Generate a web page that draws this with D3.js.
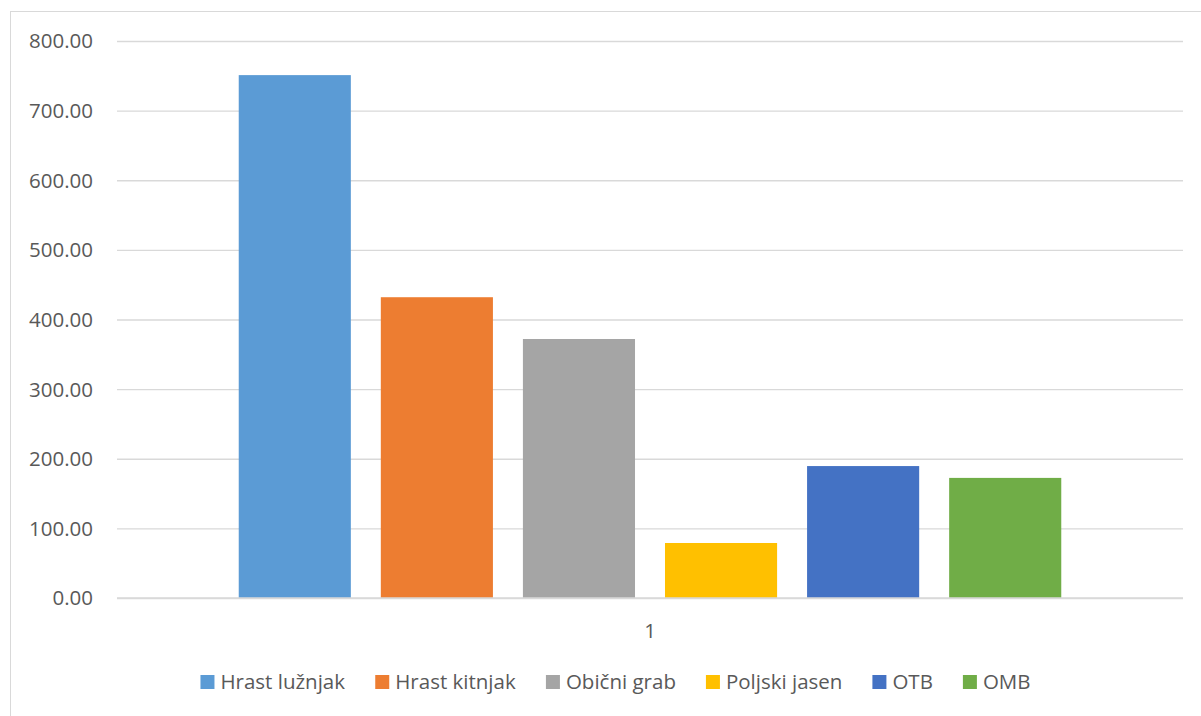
<!DOCTYPE html>
<html><head><meta charset="utf-8">
<script src="https://cdn.jsdelivr.net/npm/d3@7"></script>
<style>body{margin:0;background:#fff}svg{display:block}</style>
</head><body>
<svg id="c" width="1201" height="716"></svg>
<script>
const categories = ["1"];
const seriesNames = ["Hrast lužnjak","Hrast kitnjak","Obični grab","Poljski jasen","OTB","OMB"];
const seriesValues = [751, 432, 372, 79, 189.5, 172.5];
const seriesColors = ["#5b9bd5","#ed7d31","#a5a5a5","#ffc000","#4472c4","#70ad47"];
const yTicks = [0,100,200,300,400,500,600,700,800];

(function(){
const svg = d3.select("#c");
const font = "'Open Sans', sans-serif";
svg.append("rect").attr("x",10.5).attr("y",11.5).attr("width",1210).attr("height",720)
  .attr("fill","#fff").attr("stroke","#d9d9d9").attr("stroke-width",1);

const pl=117, pr=1183, pt=41, pb=598;
const y = d3.scaleLinear().domain([0,800]).range([pb,pt]);
const x0 = d3.scaleBand().domain(categories).range([pl,pr]).paddingInner(0).paddingOuter(0.148);
const x1 = d3.scaleBand().domain(seriesNames).range([0,x0.bandwidth()]).paddingInner(0.211).paddingOuter(0);

const yAxis = d3.axisLeft(y).tickValues(yTicks).tickFormat(d3.format(".2f")).tickSize(-(pr-pl)).tickPadding(24);
const ga = svg.append("g").attr("transform",`translate(${pl},0)`).call(yAxis);
ga.select(".domain").remove();
ga.selectAll(".tick line").attr("stroke","#d9d9d9").attr("stroke-width",1.3);
ga.selectAll(".tick text").attr("fill","#595959").attr("font-family",font).attr("font-size",20.5).attr("dy","0.34em");

const g = svg.append("g");
categories.forEach((c,ci)=>{
  g.selectAll("rect.b").data(seriesNames).enter().append("rect")
    .attr("x",d=>x0(c)+x1(d)).attr("width",x1.bandwidth())
    .attr("y",(d,i)=>y(seriesValues[i])).attr("height",(d,i)=>pb-y(seriesValues[i]))
    .attr("fill",(d,i)=>seriesColors[i]);
});
svg.append("line").attr("x1",pl).attr("x2",pr).attr("y1",y(0)).attr("y2",y(0)).attr("stroke","#d9d9d9").attr("stroke-width",1.3);

const xAxis = d3.axisBottom(x0).tickSize(0).tickPadding(25);
const gx = svg.append("g").attr("transform",`translate(0,${pb})`).call(xAxis);
gx.select(".domain").remove();
gx.selectAll(".tick text").attr("fill","#595959").attr("font-family",font).attr("font-size",20.5);

const lg = svg.append("g").attr("transform","translate(0,682)");
const items = lg.selectAll("g").data(seriesNames).enter().append("g");
items.append("rect").attr("width",14).attr("height",14).attr("y",-7).attr("fill",(d,i)=>seriesColors[i]);
items.append("text").attr("x",20).attr("dy","0.35em").text(d=>d)
  .attr("fill","#595959").attr("font-family",font).attr("font-size",20.5);
let widths = [];
items.each(function(){ widths.push(this.getBBox().width); });
const gap = 30;
const total = d3.sum(widths)+gap*(widths.length-1);
let cx = 615.5 - total/2;
items.each(function(d,i){ d3.select(this).attr("transform",`translate(${cx},0)`); cx += widths[i]+gap; });
})();
</script>
</body></html>
